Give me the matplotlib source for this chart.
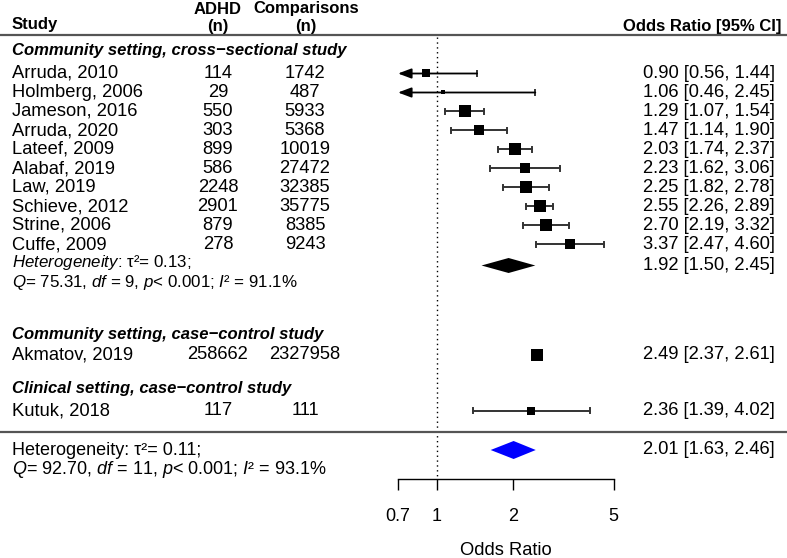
import matplotlib
matplotlib.use("Agg")
import matplotlib.pyplot as plt
import numpy as np
from matplotlib.transforms import blended_transform_factory
from matplotlib.lines import Line2D

plt.rcParams["font.family"] = ["Liberation Sans", "DejaVu Sans"]
plt.rcParams["mathtext.fontset"] = "custom"
plt.rcParams["mathtext.rm"] = "Liberation Sans"
plt.rcParams["mathtext.it"] = "Liberation Sans:italic"

# study level data
studies = ["Arruda, 2010", "Holmberg, 2006", "Jameson, 2016", "Arruda, 2020",
           "Lateef, 2009", "Alabaf, 2019", "Law, 2019", "Schieve, 2012",
           "Strine, 2006", "Cuffe, 2009", "Akmatov, 2019", "Kutuk, 2018"]
adhd_n = [114, 29, 550, 303, 899, 586, 2248, 2901, 879, 278, 258662, 117]
comp_n = [1742, 487, 5933, 5368, 10019, 27472, 32385, 35775, 8385, 9243, 2327958, 111]
or_est = [0.90, 1.06, 1.29, 1.47, 2.03, 2.23, 2.25, 2.55, 2.70, 3.37, 2.49, 2.36]
ci_lo = [0.56, 0.46, 1.07, 1.14, 1.74, 1.62, 1.82, 2.26, 2.19, 2.47, 2.37, 1.39]
ci_hi = [1.44, 2.45, 1.54, 1.90, 2.37, 3.06, 2.78, 2.89, 3.32, 4.60, 2.61, 4.02]
weights = [4.3, 0.9, 10.4, 9.2, 11.7, 7.3, 9.8, 11.7, 9.8, 8.1, 13.0, 4.0]

groups = ["Community setting, cross\u2212sectional study",
          "Community setting, case\u2212control study",
          "Clinical setting, case\u2212control study"]

# subgroup / overall summaries
sub_est, sub_lo, sub_hi = 1.92, 1.50, 2.45
sub_het = ("$\\it{Heterogeneity}$: \u03c4\u00b2= 0.13;",
           "$\\it{Q}$= 75.31, $\\it{df}$ = 9, $\\it{p}$< 0.001; $\\it{I}$\u00b2 = 91.1%")
all_est, all_lo, all_hi = 2.01, 1.63, 2.46
all_het = ("Heterogeneity: \u03c4\u00b2= 0.11;",
           "$\\it{Q}$= 92.70, $\\it{df}$ = 11, $\\it{p}$< 0.001; $\\it{I}$\u00b2 = 93.1%")

xticks = [0.7, 1, 2, 5]

# layout (pixel rows from top)
W, H = 787, 558
row_y = [73.5 + 19 * i for i in range(10)] + [355, 411]
group_y = [51, 335, 389]
sub_het_y = [263, 283]
sub_diam_y = 265.5
all_het_y = [451, 470]
all_diam_y = 450
axis_y = 479

fig = plt.figure(figsize=(W / 100, H / 100), dpi=100)
x0, x1 = 398, 613.5
ax = fig.add_axes([x0 / W, (H - axis_y) / H, (x1 - x0) / W, axis_y / H])
ax.set_xscale("log")
ax.set_xlim(0.7, 5)
ax.set_ylim(axis_y, 0)
for s in ["top", "left", "right"]:
    ax.spines[s].set_visible(False)
ax.spines["bottom"].set_linewidth(1)
ax.set_xticks(xticks)
ax.set_xticklabels([f"{t:g}" for t in xticks], fontsize=13)
ax.minorticks_off()
ax.set_yticks([])
ax.tick_params(axis="x", direction="out", length=8, width=1, pad=13)
ax.set_xlabel("Odds Ratio", fontsize=13.2, labelpad=12)
ax.patch.set_visible(False)

tr = blended_transform_factory(fig.transFigure, ax.transData)

def ftext(xpx, y, s, **kw):
    ax.text(xpx / W, y, s, transform=tr, va="center", **kw)

# headers
ftext(12, 24, "Study", fontsize=12, fontweight="bold")
ftext(218, 9, "ADHD", fontsize=12, fontweight="bold", ha="center")
ftext(218, 26, "(n)", fontsize=12, fontweight="bold", ha="center")
ftext(306, 9, "Comparisons", fontsize=12, fontweight="bold", ha="center")
ftext(306, 26, "(n)", fontsize=12, fontweight="bold", ha="center")
ftext(781, 26, "Odds Ratio [95% CI]", fontsize=12, fontweight="bold", ha="right")

for yy in (35, 432):
    fig.add_artist(Line2D([0, 1], [yy, yy], transform=tr, color="#555555", lw=1.6))

# reference line
ax.plot([1, 1], [37, axis_y], color="black", lw=1, ls=(0, (1, 2.5)), clip_on=False)

for gy, g in zip(group_y, groups):
    ftext(12, gy, g, fontsize=12, fontweight="bold", fontstyle="italic")

lc = "#333333"
for i, name in enumerate(studies):
    y = row_y[i]
    ftext(12, y, name, fontsize=13.2)
    ftext(218, y, str(adhd_n[i]), fontsize=13.2, ha="center")
    ftext(305, y, str(comp_n[i]), fontsize=13.2, ha="center")
    ftext(643, y, f"{or_est[i]:.2f} [{ci_lo[i]:.2f}, {ci_hi[i]:.2f}]", fontsize=13.2)
    lo, hi = ci_lo[i], ci_hi[i]
    if i != 10:  # Akmatov CI hidden behind box
        if lo < 0.7:
            ax.annotate("", xy=(0.7, y), xytext=(hi, y),
                        arrowprops=dict(arrowstyle="-|>,head_length=0.8,head_width=0.3",
                                        color="black", lw=1.3, shrinkA=0, shrinkB=0),
                        annotation_clip=False)
        else:
            ax.plot([lo, hi], [y, y], color=lc, lw=1.4)
            ax.plot([lo, lo], [y - 2.5, y + 2.5], color=lc, lw=1.4)
        ax.plot([hi, hi], [y - 2.5, y + 2.5], color=lc, lw=1.4)
    side_pt = 3.52 * np.sqrt(weights[i]) * 0.72
    ax.scatter([or_est[i]], [y], marker="s", s=side_pt ** 2, color="black",
               linewidths=0, zorder=3, clip_on=False)

# subgroup summary
ftext(12, sub_het_y[0], sub_het[0], fontsize=12.2)
ftext(12, sub_het_y[1], sub_het[1], fontsize=12.2)
ax.fill([sub_lo, sub_est, sub_hi, sub_est],
        [sub_diam_y, sub_diam_y - 7.5, sub_diam_y, sub_diam_y + 7.5],
        color="black", lw=0)
ftext(643, sub_diam_y, f"{sub_est:.2f} [{sub_lo:.2f}, {sub_hi:.2f}]", fontsize=13.2)

# overall summary
ftext(12, all_het_y[0], all_het[0], fontsize=13)
ftext(12, all_het_y[1], all_het[1], fontsize=13)
ax.fill([all_lo, all_est, all_hi, all_est],
        [all_diam_y, all_diam_y - 9, all_diam_y, all_diam_y + 9],
        color="#0000ff", lw=0)
ftext(643, all_diam_y, f"{all_est:.2f} [{all_lo:.2f}, {all_hi:.2f}]", fontsize=13.2)

fig.savefig("out.png", dpi=100)
